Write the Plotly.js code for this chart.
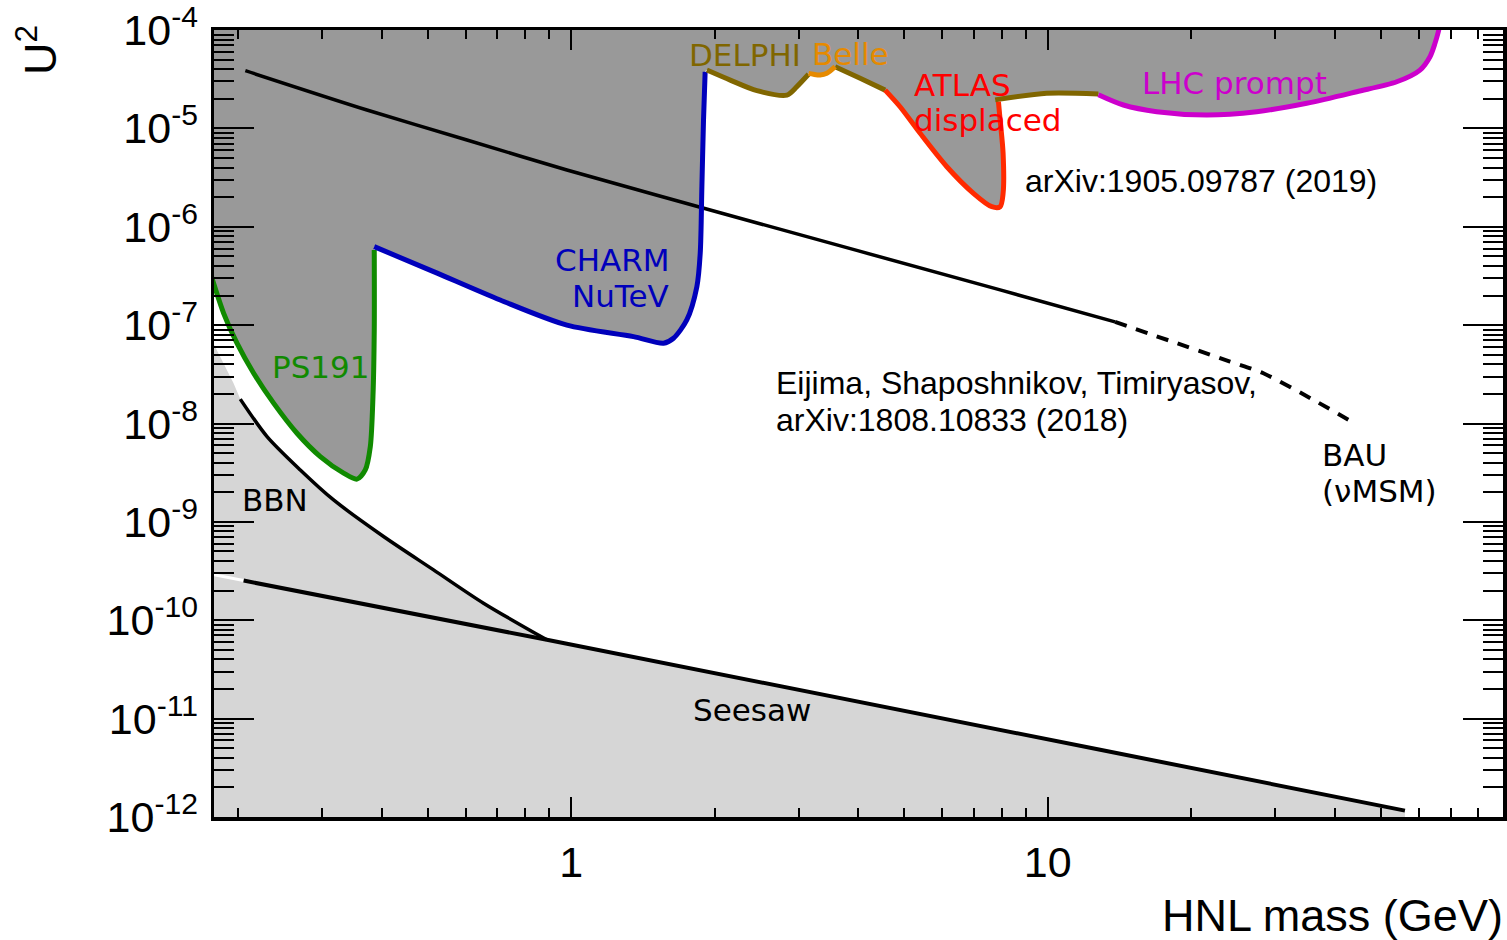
<!DOCTYPE html>
<html>
<head>
<meta charset="utf-8">
<script src="https://cdn.plot.ly/plotly-3.0.1.min.js"></script>
<style>html,body{margin:0;padding:0;background:#fff;}#chart{width:1507px;height:940px;}</style>
</head>
<body>
<div id="chart"></div>
<script>
// ---------- data (HNL mass in GeV, U^2) ----------
const ps191_m  = [0.175, 0.1865, 0.1989, 0.2156, 0.2374, 0.2658, 0.2975, 0.3330, 0.3551, 0.3697, 0.3788, 0.3837, 0.3861, 0.3861];
const ps191_u2 = [3.36e-7, 1.32e-7, 6.55e-8, 3.24e-8, 1.61e-8, 7.96e-9, 4.61e-9, 3.13e-9, 2.72e-9, 3.37e-9, 5.82e-9, 1.88e-8, 8.93e-8, 5.81e-7];

const charm_m  = [0.386, 0.5142, 0.7095, 0.9794, 1.351, 1.562, 1.639, 1.748, 1.835, 1.865, 1.880, 1.895, 1.910];
const charm_u2 = [6.28e-7, 3.50e-7, 1.80e-7, 1.00e-7, 7.64e-8, 6.55e-8, 7.36e-8, 1.13e-7, 2.46e-7, 5.38e-7, 2.56e-6, 1.22e-5, 3.77e-5];

const delphi1_m  = [1.926, 2.156, 2.453, 2.835, 2.975, 3.147];
const delphi1_u2 = [3.92e-5, 3.10e-5, 2.42e-5, 2.18e-5, 2.66e-5, 3.55e-5];

const belle_m  = [3.147, 3.224, 3.330, 3.439, 3.579];
const belle_u2 = [3.63e-5, 3.55e-5, 3.49e-5, 3.63e-5, 4.24e-5];

const delphi2_m  = [3.579, 4.039, 4.557];
const delphi2_u2 = [4.24e-5, 3.23e-5, 2.45e-5];

const atlas_m  = [4.557, 4.898, 5.397, 6.141, 6.982, 7.630, 7.943, 8.058, 8.058, 7.943, 7.879];
const atlas_u2 = [2.45e-5, 1.66e-5, 8.91e-6, 4.08e-6, 2.19e-6, 1.60e-6, 1.60e-6, 2.19e-6, 5.58e-6, 1.22e-5, 1.87e-5];

const delphi3_m  = [7.755, 9.95, 12.77];
const delphi3_u2 = [1.95e-5, 2.28e-5, 2.24e-5];

const lhc_m  = [12.77, 14.41, 16.93, 21.56, 27.44, 34.94, 44.49, 53.98, 60.39, 63.39, 64.94, 65.99, 66.6];
const lhc_u2 = [2.20e-5, 1.73e-5, 1.48e-5, 1.37e-5, 1.48e-5, 1.80e-5, 2.36e-5, 2.98e-5, 3.92e-5, 5.36e-5, 7.33e-5, 9.61e-5, 1.2e-4];

const bau_m  = [0.2071, 0.3727, 0.6043, 0.9794, 2.053, 7.943, 13.84];
const bau_u2 = [3.86e-5, 1.54e-5, 7.62e-6, 3.78e-6, 1.39e-6, 2.28e-7, 1.078e-7];
const bauDash_m  = [13.84, 24.12, 28.34, 36.08, 43.42];
const bauDash_u2 = [1.078e-7, 4.26e-8, 3.24e-8, 1.74e-8, 1.045e-8];

const bbn_m  = [0.2021, 0.2300, 0.2701, 0.3172, 0.4038, 0.5142, 0.6546, 0.889];
const bbn_u2 = [1.77e-8, 7.36e-9, 3.37e-9, 1.67e-9, 7.10e-10, 3.25e-10, 1.49e-10, 6.32e-11];
const bbnEdge_m  = [0.175, 0.1954];
const bbnEdge_u2 = [7.5e-8, 2.59e-8];

const seesaw_m  = [0.2054, 0.889, 12.88, 56.16];
const seesaw_u2 = [2.53e-10, 6.32e-11, 4.82e-12, 1.16e-12];
const seesawGap_m  = [0.175, 0.2054];
const seesawGap_u2 = [2.95e-10, 2.53e-10];

// axis ticks
const xTickVals = [1, 10];
const xTickText = ['1', '10'];
const yExponents = [-4, -5, -6, -7, -8, -9, -10, -11, -12];
const yTickVals = yExponents.map(e => Math.pow(10, e));
const yTickText = yExponents.map(e => '10<sup>' + e + '</sup>');

// ---------- helpers ----------
function minorTicks(lo, hi) {
  const v = [];
  for (let e = lo; e <= hi; e++) for (let d = 2; d <= 9; d++) v.push(d * Math.pow(10, e));
  return v;
}
const PL = 214, PR = 1503, PT = 30, PB = 817;
const px = p => (p - PL) / (PR - PL);
const py = p => (PB - p) / (PB - PT);

const C = {
  dark: '#999999', light: '#d6d6d6',
  green: '#108a00', blue: '#0000bb', olive: '#806600', orange: '#e68a00',
  red: '#ff2a00', magenta: '#cc00cc'
};

// ---------- traces ----------
const darkX = [].concat(ps191_m, charm_m, delphi1_m, belle_m, delphi2_m, atlas_m, delphi3_m, lhc_m, [66.6, 66.6, 0.175, 0.175]);
const darkY = [].concat(ps191_u2, charm_u2, delphi1_u2, belle_u2, delphi2_u2, atlas_u2, delphi3_u2, lhc_u2, [1e-3, 1e-3, 1e-3, 1e-3]);

const lightX = [].concat(bbnEdge_m, bbn_m, seesaw_m.slice(2), [seesaw_m[3], 0.175]);
const lightY = [].concat(bbnEdge_u2, bbn_u2, seesaw_u2.slice(2), [1e-13, 1e-13]);

function line(x, y, color, width, dash, smooth) {
  return {x, y, type: 'scatter', mode: 'lines', hoverinfo: 'skip', showlegend: false,
          line: {color, width, dash: dash || 'solid', shape: smooth ? 'spline' : 'linear', smoothing: 0.8}};
}

const traces = [
  {x: darkX, y: darkY, type: 'scatter', mode: 'lines', fill: 'toself', fillcolor: C.dark,
   line: {width: 0, color: C.dark, shape: 'spline', smoothing: 0.8}, hoverinfo: 'skip', showlegend: false},
  {x: lightX, y: lightY, type: 'scatter', mode: 'lines', fill: 'toself', fillcolor: C.light,
   line: {width: 0, color: C.light}, hoverinfo: 'skip', showlegend: false},
  line(seesawGap_m, seesawGap_u2, '#ffffff', 3),
  line(seesaw_m, seesaw_u2, '#000000', 4),
  line(bbn_m, bbn_u2, '#000000', 3.5, null, true),
  line(bau_m, bau_u2, '#000000', 3.5, null, true),
  line(bauDash_m, bauDash_u2, '#000000', 4, '12px,10px', true),
  line(ps191_m, ps191_u2, C.green, 5, null, true),
  line(charm_m, charm_u2, C.blue, 5, null, true),
  line(delphi1_m, delphi1_u2, C.olive, 5, null, true),
  line(delphi2_m, delphi2_u2, C.olive, 5, null, true),
  line(delphi3_m, delphi3_u2, C.olive, 5, null, true),
  line(belle_m, belle_u2, C.orange, 5, null, true),
  line(atlas_m, atlas_u2, C.red, 5, null, true),
  line(lhc_m, lhc_u2, C.magenta, 5, null, true)
];

const DJ = 'DejaVu Sans', AR = 'Liberation Sans, Arial, sans-serif';
function label(text, x, y, color, family, size, xanchor) {
  return {text, x: px(x), y: py(y), xref: 'paper', yref: 'paper', showarrow: false,
          xanchor: xanchor || 'left', yanchor: 'middle',
          font: {family, size, color}};
}

const annotations = [
  label('DELPHI', 687, 55, C.olive, DJ, 31),
  label('Belle', 810, 54, C.orange, DJ, 31),
  label('ATLAS', 912, 85, '#ff0000', DJ, 31),
  label('displaced', 912, 120, '#ff0000', DJ, 31),
  label('LHC prompt', 1140, 83, C.magenta, DJ, 31),
  label('CHARM', 671, 260, C.blue, DJ, 31, 'right'),
  label('NuTeV', 671, 296, C.blue, DJ, 31, 'right'),
  label('PS191', 270, 367, C.green, DJ, 31),
  label('BBN', 240, 500, '#000000', DJ, 31),
  label('Seesaw', 691, 710, '#000000', DJ, 31),
  label('BAU', 1320, 455, '#000000', DJ, 31),
  label('(\u03bdMSM)', 1320, 491, '#000000', DJ, 31),
  label('arXiv:1905.09787 (2019)', 1023, 181, '#000000', AR, 32),
  label('Eijima, Shaposhnikov, Timiryasov,', 774, 383, '#000000', AR, 32),
  label('arXiv:1808.10833 (2018)', 774, 420, '#000000', AR, 32),
  {text: 'U<sup>2</sup>', x: px(37), y: py(50), xref: 'paper', yref: 'paper', showarrow: false,
   xanchor: 'center', yanchor: 'middle', textangle: -90, font: {family: AR, size: 45, color: '#000'}},
  {text: 'HNL mass (GeV)', x: px(1505), y: py(915), xref: 'paper', yref: 'paper', showarrow: false,
   xanchor: 'right', yanchor: 'middle', font: {family: AR, size: 45, color: '#000'}}
];

const axisCommon = {
  type: 'log', showgrid: false, zeroline: false, showline: true, linecolor: '#000', linewidth: 3.5,
  mirror: 'allticks', ticks: 'inside', tickcolor: '#000', tickwidth: 2,
  tickfont: {family: AR, size: 43, color: '#000'}, tickmode: 'array'
};

const layout = {
  width: 1507, height: 940,
  margin: {l: PL, r: 1507 - PR, t: PT, b: 940 - PB},
  paper_bgcolor: '#fff', plot_bgcolor: '#fff',
  showlegend: false,
  xaxis: Object.assign({}, axisCommon, {
    range: [Math.log10(0.178), Math.log10(90.2)],
    tickvals: xTickVals, ticktext: xTickText, ticklen: 20, ticklabelstandoff: 5,
    minor: {tickmode: 'array', tickvals: minorTicks(-1, 1), ticks: 'inside', ticklen: 9, tickwidth: 2, tickcolor: '#000', showgrid: false}
  }),
  yaxis: Object.assign({}, axisCommon, {
    range: [-12.0005, -3.9995],
    tickvals: yTickVals, ticktext: yTickText, ticklen: 40, ticklabelstandoff: 4,
    minor: {tickmode: 'array', tickvals: minorTicks(-12, -5), ticks: 'inside', ticklen: 20, tickwidth: 2, tickcolor: '#000', showgrid: false}
  }),
  annotations
};

Plotly.newPlot('chart', traces, layout, {staticPlot: true, displayModeBar: false});
</script>
</body>
</html>
